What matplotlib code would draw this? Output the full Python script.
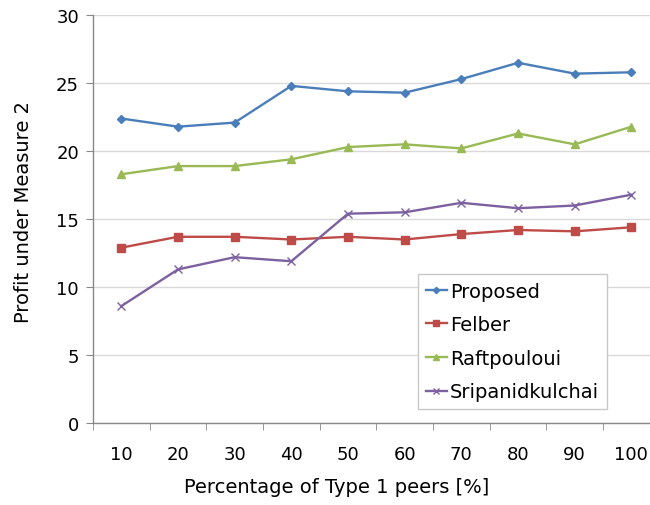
import matplotlib
matplotlib.use("Agg")
import matplotlib.pyplot as plt
import numpy as np

# valores
percentuais = ["10", "20", "30", "40", "50", "60", "70", "80", "90", "100"]
proposed = [22.4, 21.8, 22.1, 24.8, 24.4, 24.3, 25.3, 26.5, 25.7, 25.8]
felber = [12.9, 13.7, 13.7, 13.5, 13.7, 13.5, 13.9, 14.2, 14.1, 14.4]
raftpouloui = [18.3, 18.9, 18.9, 19.4, 20.3, 20.5, 20.2, 21.3, 20.5, 21.8]
sripanidkulchai = [8.6, 11.3, 12.2, 11.9, 15.4, 15.5, 16.2, 15.8, 16.0, 16.8]

series = [
    ("Proposed", proposed, "#4A7EBB", "D", 4),
    ("Felber", felber, "#BE4B48", "s", 6),
    ("Raftpouloui", raftpouloui, "#98B954", "^", 6),
    ("Sripanidkulchai", sripanidkulchai, "#7D60A0", "x", 6),
]

plt.rcParams["font.family"] = "DejaVu Sans"

fig = plt.figure(figsize=(6.5, 5.06), dpi=100)
ax = fig.add_axes([0.143, 0.162, 0.872, 0.806])

x = np.arange(len(percentuais))
for nome, valores, cor, marcador, tam in series:
    ax.plot(x, valores, color=cor, marker=marcador, markersize=tam,
            linewidth=1.7, markeredgewidth=1.0, label=nome)

ax.set_xlim(-0.5, len(percentuais) - 0.5)
ax.set_ylim(0, 30)
ax.set_yticks(np.arange(0, 31, 5))
ax.set_xticks(x)
ax.set_xticklabels(percentuais)
ax.set_xticks(np.arange(-0.5, len(percentuais), 1), minor=True)
ax.tick_params(axis="x", which="major", length=0, pad=16, labelsize=13)
ax.tick_params(axis="x", which="minor", length=5, color="#888888")
ax.tick_params(axis="y", length=5, color="#888888", labelsize=13, pad=5)

ax.grid(axis="y", color="#d9d9d9", linewidth=1.0)
ax.set_axisbelow(True)
for lado in ["top", "right"]:
    ax.spines[lado].set_visible(False)
for lado in ["left", "bottom"]:
    ax.spines[lado].set_color("#888888")
    ax.spines[lado].set_linewidth(1.0)

ax.set_xlabel("Percentage of Type 1 peers [%]", fontsize=14)
ax.xaxis.set_label_coords(0.43, -0.133)
ax.set_ylabel("Profit under Measure 2", fontsize=14)
ax.yaxis.set_label_coords(-0.106, 0.52)

leg = ax.legend(loc="lower left", bbox_to_anchor=(0.573, 0.034), fontsize=14,
                handlelength=1.1, handletextpad=0.15, borderpad=0.4,
                labelspacing=0.75, fancybox=False, framealpha=1.0,
                borderaxespad=0, markerscale=0.8)
leg.get_frame().set_edgecolor("#c8c8c8")
leg.get_frame().set_linewidth(1.0)

plt.savefig("out.png", dpi=100)
